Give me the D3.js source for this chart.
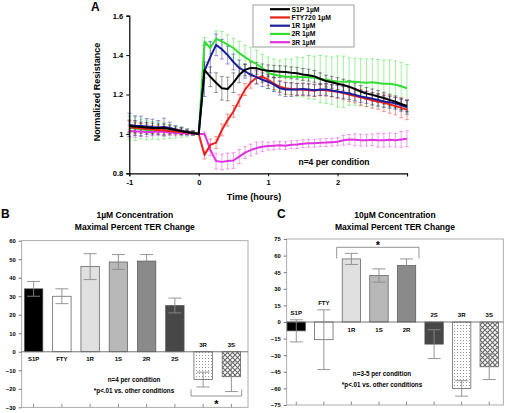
<!DOCTYPE html>
<html><head><meta charset="utf-8">
<script src="https://cdn.jsdelivr.net/npm/d3@7"></script>
<style>body{margin:0;background:#fff}svg{display:block;font-family:"Liberation Sans",Arial,sans-serif;font-weight:bold}</style>
</head><body><svg id="c" width="510" height="413"></svg>
<script>
// ---------- Panel A data (time course, 5-minute steps from -1 h to 3 h) ----------
const seriesNames = ["S1P 1µM","FTY720 1µM","1R 1µM","2R 1µM","3R 1µM"];
const seriesColors = ["#000000","#e8221c","#1c1c9c","#33dd33","#e033e0"];
const xTicksA = [-1,0,1,2,3];
const xTickLabelsA = ["-1","0","1","2",""];
const yTicksA = [0.8,1.0,1.2,1.4,1.6];
const yTickLabelsA = ["0.8","1","1.2","1.4","1.6"];

const s1pVals = [1.04,1.038,1.035,1.033,1.03,1.03,1.03,1.025,1.02,1.015,1.01,1.005,1.0,
 1.325,1.29,1.26,1.232,1.228,1.26,1.30,1.325,1.335,1.333,1.325,1.32,1.318,1.316,1.314,1.31,1.308,1.302,1.298,1.292,1.28,1.268,1.262,1.255,1.248,1.24,1.228,1.215,1.205,1.198,1.19,1.182,1.172,1.163,1.152,1.142];
const ftyVals = [1.035,1.03,1.028,1.025,1.022,1.02,1.018,1.015,1.012,1.01,1.007,1.004,1.0,
 0.893,0.944,0.956,1.02,1.07,1.114,1.17,1.225,1.262,1.285,1.29,1.275,1.255,1.24,1.232,1.228,1.226,1.225,1.222,1.22,1.224,1.222,1.218,1.214,1.208,1.2,1.192,1.186,1.178,1.17,1.165,1.158,1.15,1.142,1.132,1.122];
const r1Vals = [1.045,1.042,1.04,1.038,1.035,1.033,1.035,1.03,1.022,1.015,1.01,1.005,1.0,
 1.32,1.39,1.452,1.43,1.40,1.365,1.335,1.318,1.30,1.288,1.275,1.265,1.25,1.232,1.225,1.225,1.226,1.228,1.226,1.222,1.225,1.226,1.22,1.215,1.21,1.205,1.198,1.19,1.185,1.178,1.172,1.165,1.16,1.155,1.145,1.135];
const r2Vals = [1.03,1.027,1.025,1.02,1.018,1.015,1.015,1.012,1.01,1.008,1.005,1.003,1.0,
 1.469,1.436,1.483,1.47,1.453,1.436,1.41,1.39,1.37,1.355,1.335,1.31,1.30,1.295,1.29,1.29,1.29,1.288,1.288,1.285,1.278,1.275,1.27,1.266,1.265,1.266,1.265,1.262,1.26,1.262,1.258,1.255,1.255,1.25,1.242,1.232];
const r3Vals = [1.015,1.013,1.012,1.01,1.01,1.012,1.01,1.008,1.006,1.005,1.003,1.002,1.0,
 1.0,0.92,0.862,0.858,0.862,0.865,0.885,0.905,0.918,0.928,0.935,0.938,0.94,0.942,0.94,0.945,0.946,0.95,0.952,0.953,0.955,0.956,0.958,0.96,0.968,0.972,0.97,0.968,0.968,0.97,0.968,0.968,0.97,0.968,0.972,0.975];

const s1pErr = [0.03,0.03,0.025,0.025,0.025,0.02,0.02,0.02,0.015,0.015,0.01,0.01,0,
 0.04,0.05,0.05,0.06,0.06,0.05,0.04,0.03,0.03,0.03,0.03,0.03,0.03,0.03,0.03,0.03,0.03,0.03,0.03,0.03,0.03,0.03,0.03,0.03,0.03,0.03,0.03,0.03,0.03,0.03,0.03,0.03,0.03,0.03,0.03,0.03];
const ftyErr = [0.03,0.03,0.025,0.025,0.02,0.02,0.02,0.02,0.015,0.015,0.01,0.01,0,
 0.02,0.03,0.03,0.03,0.03,0.03,0.03,0.03,0.03,0.03,0.03,0.03,0.03,0.03,0.03,0.03,0.03,0.03,0.03,0.03,0.03,0.03,0.03,0.035,0.035,0.035,0.035,0.04,0.04,0.04,0.04,0.045,0.045,0.045,0.05,0.05];
const r1Err = [0.06,0.05,0.05,0.04,0.04,0.035,0.045,0.03,0.02,0.02,0.015,0.01,0,
 0.13,0.08,0.055,0.05,0.045,0.04,0.04,0.035,0.035,0.035,0.035,0.035,0.035,0.035,0.035,0.035,0.03,0.03,0.03,0.03,0.03,0.03,0.03,0.03,0.03,0.03,0.03,0.03,0.03,0.03,0.03,0.03,0.03,0.03,0.03,0.035];
const r2Err = [0.06,0.06,0.05,0.05,0.045,0.045,0.04,0.035,0.03,0.025,0.02,0.01,0,
 0.02,0.03,0.04,0.05,0.05,0.05,0.06,0.06,0.07,0.07,0.07,0.08,0.08,0.08,0.09,0.09,0.1,0.1,0.11,0.11,0.12,0.12,0.12,0.13,0.13,0.12,0.12,0.12,0.12,0.12,0.12,0.12,0.12,0.12,0.12,0.12];
const r3Err = [0.03,0.03,0.025,0.025,0.02,0.02,0.02,0.015,0.015,0.01,0.01,0.005,0,
 0.01,0.03,0.04,0.04,0.04,0.04,0.035,0.03,0.03,0.03,0.025,0.02,0.02,0.02,0.02,0.02,0.02,0.02,0.02,0.02,0.02,0.02,0.02,0.02,0.025,0.025,0.03,0.03,0.03,0.03,0.035,0.035,0.035,0.035,0.04,0.04];

// ---------- Panels B and C data ----------
const barCats = ["S1P","FTY","1R","1S","2R","2S","3R","3S"];
const barFills = ["#000000","#ffffff","#e0e0e0","#b8b8b8","#8a8a8a","#474747","url(#dots)","url(#hatch)"];
const bVals = [34,30,46,48.5,49,25,-15,-13.5];
const bErrs = [4,4,7,4,3.5,4,4,8];
const bTicks = [-30,-20,-10,0,10,20,30,40,50,60];
const cVals = [-8,-16,57,42,51,-20,-60,-40.5];
const cErrs = [10,27,5,6,6,13,7,11.5];
const cTicks = [-75,-60,-45,-30,-15,0,15,30,45,60,75];

const svg = d3.select("#c");
const defs = svg.append("defs");
const dots = defs.append("pattern").attr("id","dots").attr("patternUnits","userSpaceOnUse").attr("width",3).attr("height",3);
dots.append("rect").attr("width",3).attr("height",3).attr("fill","#fff");
dots.append("rect").attr("x",1).attr("y",1).attr("width",1).attr("height",1).attr("fill","#999");
const hatch = defs.append("pattern").attr("id","hatch").attr("patternUnits","userSpaceOnUse").attr("width",5).attr("height",5);
hatch.append("rect").attr("width",5).attr("height",5).attr("fill","#fff");
hatch.append("path").attr("d","M0,0L5,5M5,0L0,5").attr("stroke","#666").attr("stroke-width",1.1);

// ================= Panel A =================
const timeHours = d3.range(s1pVals.length).map(i => -1 + i / 12);
const xA = d3.scaleLinear().domain([-1,3]).range([129.3,407]);
const yA = d3.scaleLinear().domain([0.8,1.6]).range([173.3,15.7]);
const gA = svg.append("g");

const allVals = [s1pVals,ftyVals,r1Vals,r2Vals,r3Vals];
const allErrs = [s1pErr,ftyErr,r1Err,r2Err,r3Err];
const drawOrder = [3,4,1,2,0];

// error bars
drawOrder.forEach(k => {
  const g = gA.append("g").attr("stroke",seriesColors[k]).attr("stroke-opacity",k===0?0.45:0.5).attr("stroke-width",0.9);
  allVals[k].forEach((v,i) => {
    const e = allErrs[k][i];
    if (e <= 0) return;
    const x = xA(timeHours[i]);
    g.append("line").attr("x1",x).attr("x2",x).attr("y1",yA(v-e)).attr("y2",yA(v+e));
    g.append("line").attr("x1",x-2).attr("x2",x+2).attr("y1",yA(v-e)).attr("y2",yA(v-e));
    g.append("line").attr("x1",x-2).attr("x2",x+2).attr("y1",yA(v+e)).attr("y2",yA(v+e));
  });
});
// lines
const lineA = d3.line().x((d,i)=>xA(timeHours[i])).y(d=>yA(d));
drawOrder.forEach(k => {
  gA.append("path").datum(allVals[k]).attr("d",lineA).attr("fill","none")
    .attr("stroke",seriesColors[k]).attr("stroke-width",2).attr("stroke-linejoin","round");
});

// axes
const axYA = d3.axisLeft(yA).tickValues(yTicksA).tickSize(3).tickPadding(3).tickFormat((d,i)=>yTickLabelsA[i]);
const gyA = gA.append("g").attr("transform","translate(129.3,0)").call(axYA);
const axXA = d3.axisBottom(xA).tickValues(xTicksA).tickSize(3).tickPadding(3).tickFormat((d,i)=>xTickLabelsA[i]);
const gxA = gA.append("g").attr("transform","translate(0,173.3)").call(axXA);
[gyA,gxA].forEach(g=>{
  g.select(".domain").attr("stroke","#000").attr("stroke-width",1.2);
  g.selectAll(".tick line").attr("stroke","#000");
  g.selectAll("text").attr("font-family",'"Liberation Sans",Arial,sans-serif').attr("font-weight","bold").attr("font-size",7.5).attr("fill","#000");
});
gA.append("text").attr("transform","translate(100,92) rotate(-90)").attr("text-anchor","middle").attr("font-size",9).text("Normalized Resistance");
gA.append("text").attr("x",254).attr("y",200).attr("text-anchor","middle").attr("font-size",9).text("Time (hours)");
gA.append("text").attr("x",334).attr("y",165).attr("text-anchor","middle").attr("font-size",8.5).text("n=4 per condition");
gA.append("text").attr("x",91).attr("y",11).attr("font-size",12).text("A");

// legend
const lg = gA.append("g");
lg.append("rect").attr("x",253).attr("y",5).attr("width",101).attr("height",42).attr("fill","#fff").attr("stroke","#888").attr("stroke-width",0.8);
seriesNames.forEach((n,k)=>{
  const yy = 9.2 + k*8.25;
  lg.append("line").attr("x1",270).attr("x2",290).attr("y1",yy).attr("y2",yy).attr("stroke",seriesColors[k]).attr("stroke-width",2.2);
  lg.append("text").attr("x",291.5).attr("y",yy).attr("dy","0.35em").attr("font-size",6.8).text(n);
});

// ================= Bar panels =================
function barPanel(o) {
  const g = svg.append("g");
  const y = d3.scaleLinear().domain(o.domain).range([o.bottom,o.top]);
  const x = d3.scalePoint().domain(barCats).range(o.xr).padding(0.5);
  const bw = 18.4;
  const y0 = y(0);
  g.append("rect").attr("x",o.fx0).attr("y",o.top).attr("width",o.fx1-o.fx0).attr("height",o.bottom-o.top)
    .attr("fill","none").attr("stroke","#999").attr("stroke-width",0.8);
  const ay = d3.axisLeft(y).tickValues(o.ticks).tickSize(3).tickPadding(3).tickFormat(d3.format("d"));
  const gy = g.append("g").attr("transform",`translate(${o.fx0},0)`).call(ay);
  gy.select(".domain").remove();
  gy.selectAll(".tick line").attr("stroke","#777");
  gy.selectAll("text").attr("font-family",'"Liberation Sans",Arial,sans-serif').attr("font-weight","bold").attr("font-size",5.8).attr("fill","#000");
  barCats.forEach(c=>{
    g.append("line").attr("x1",x(c)).attr("x2",x(c)).attr("y1",o.bottom).attr("y2",o.bottom-3.5).attr("stroke","#777").attr("stroke-width",0.8);
  });
  barCats.forEach((c,i)=>{
    const v = o.vals[i];
    g.append("rect").attr("x",x(c)-bw/2).attr("width",bw)
      .attr("y",Math.min(y(v),y0)).attr("height",Math.abs(y(v)-y0))
      .attr("fill",barFills[i]).attr("stroke","#555").attr("stroke-width",0.7);
  });
  g.append("line").attr("x1",o.fx0).attr("x2",o.fx1).attr("y1",y0).attr("y2",y0).attr("stroke","#666").attr("stroke-width",0.9);
  barCats.forEach((c,i)=>{
    const v = o.vals[i], e = o.errs[i], cx = x(c);
    const eg = g.append("g").attr("stroke","#8a8a8a").attr("stroke-width",0.9);
    eg.append("line").attr("x1",cx).attr("x2",cx).attr("y1",y(v-e)).attr("y2",y(v+e));
    eg.append("line").attr("x1",cx-6.5).attr("x2",cx+6.5).attr("y1",y(v-e)).attr("y2",y(v-e));
    eg.append("line").attr("x1",cx-6.5).attr("x2",cx+6.5).attr("y1",y(v+e)).attr("y2",y(v+e));
  });
  barCats.forEach((c,i)=>{
    const v = o.vals[i], e = o.errs[i];
    const yy = v >= 0 ? y0 + 9.5 : Math.min(y0, y(v+e)) - 5;
    g.append("text").attr("x",x(c)).attr("y",yy).attr("text-anchor","middle").attr("font-size",6).text(c);
  });
  const cx = (o.fx0+o.fx1)/2;
  g.append("text").attr("x",cx).attr("y",218).attr("text-anchor","middle").attr("font-size",8.5).text(o.title1);
  g.append("text").attr("x",cx).attr("y",229.5).attr("text-anchor","middle").attr("font-size",8.5).text("Maximal Percent TER Change");
  g.append("text").attr("x",o.letterX).attr("y",218).attr("font-size",12).text(o.letter);
  g.append("text").attr("x",o.noteX).attr("y",o.noteY).attr("text-anchor","middle").attr("font-size",6.3).text(o.note1);
  g.append("text").attr("x",o.noteX).attr("y",o.noteY+11).attr("text-anchor","middle").attr("font-size",6.3).text("*p<.01 vs. other conditions");
  return {g,x,y};
}

const B = barPanel({domain:[-30,60],top:240.7,bottom:407.3,xr:[19.5,245.5],fx0:21.7,fx1:248,ticks:bTicks,
  vals:bVals,errs:bErrs,title1:"1µM Concentration",letter:"B",letterX:1,note1:"n=4 per condition",noteX:134,noteY:381.5});
B.g.append("path").attr("d",`M191,389.5V396H241.7V389.5`).attr("fill","none").attr("stroke","#888").attr("stroke-width",0.9);
B.g.append("text").attr("x",216.5).attr("y",408).attr("text-anchor","middle").attr("font-size",11).text("*");

const C = barPanel({domain:[-75,75],top:239,bottom:405,xr:[282.5,503],fx0:286.7,fx1:503.3,ticks:cTicks,
  vals:cVals,errs:cErrs,title1:"10µM Concentration",letter:"C",letterX:277,note1:"n=3-5 per condition",noteX:382,noteY:376});
C.g.append("path").attr("d",`M336.7,258.5V247.3H419V258.5`).attr("fill","none").attr("stroke","#888").attr("stroke-width",0.9);
C.g.append("text").attr("x",378).attr("y",249).attr("text-anchor","middle").attr("font-size",11).text("*");
</script></body></html>
